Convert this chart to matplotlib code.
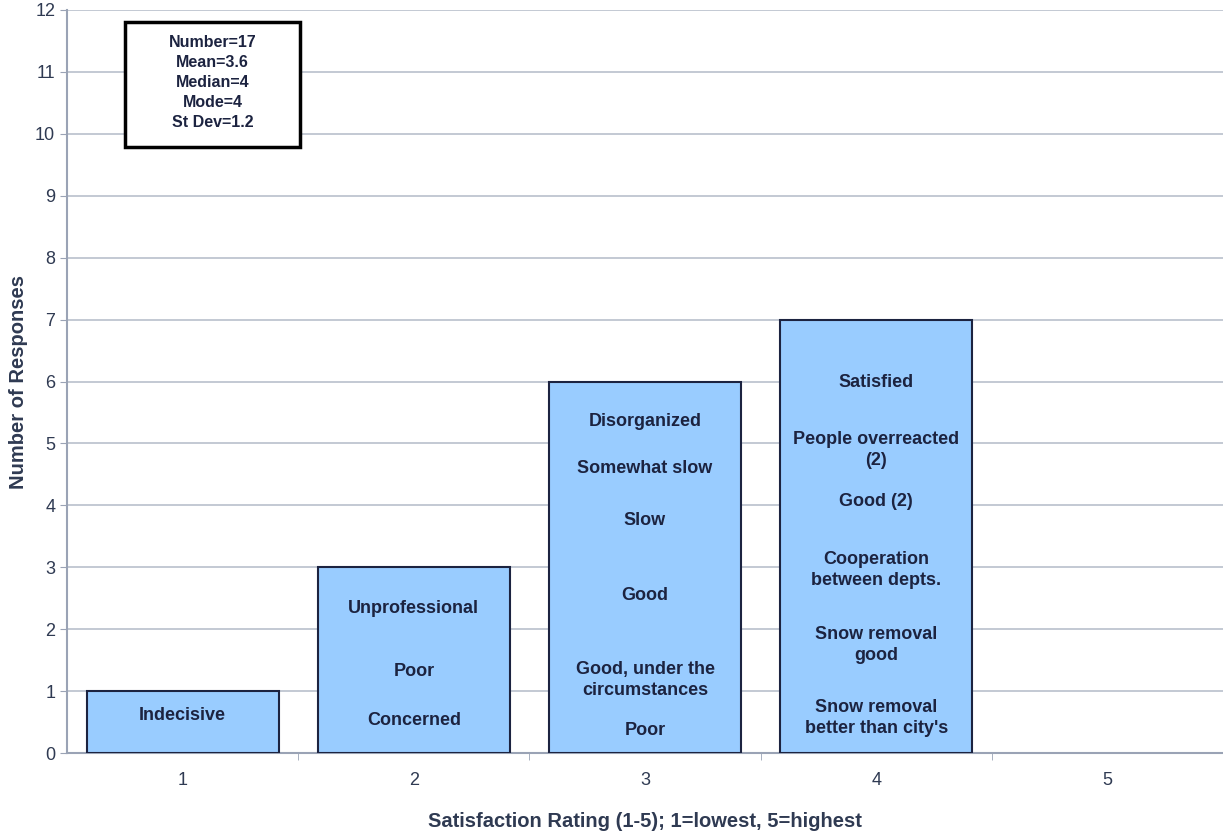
import matplotlib.pyplot as plt
from matplotlib.patches import Rectangle

plt.rcParams['font.family'] = ['Liberation Sans', 'DejaVu Sans']

ratings = [1, 2, 3, 4, 5]
responses = [1, 3, 6, 7, 0]

# comments written inside each bar: (rating, y position, text)
comment_rating = [1, 2, 2, 2, 3, 3, 3, 3, 3, 3, 4, 4, 4, 4, 4, 4]
comment_y = [0.6, 2.34, 1.31, 0.52, 5.36, 4.6, 3.76, 2.55, 1.18, 0.36,
             5.99, 4.9, 4.07, 2.96, 1.74, 0.57]
comment_text = ['Indecisive',
                'Unprofessional', 'Poor', 'Concerned',
                'Disorganized', 'Somewhat slow', 'Slow', 'Good',
                'Good, under the\ncircumstances', 'Poor',
                'Satisfied', 'People overreacted\n(2)', 'Good (2)',
                'Cooperation\nbetween depts.', 'Snow removal\ngood',
                "Snow removal\nbetter than city's"]

stats = 'Number=17\nMean=3.6\nMedian=4\nMode=4\nSt Dev=1.2'

ink = '#1c2340'
grey_ink = '#2f3a52'

fig = plt.figure(figsize=(12.23, 8.33), dpi=100)
ax = fig.add_axes([0.0548, 0.096, 0.9452, 0.892])

# empty categories get no outline
edge_w = [1.5 if v > 0 else 0 for v in responses]
ax.bar(ratings, responses, width=0.83, color='#99ccff', edgecolor=ink,
       linewidth=edge_w, zorder=3)

for r, y, t in zip(comment_rating, comment_y, comment_text):
    ax.text(r, y, t, ha='center', va='center', fontsize=13,
            fontweight='bold', color=ink, linespacing=1.3, zorder=4)

# statistics box
ax.add_patch(Rectangle((0.751, 9.79), 0.758, 2.02, facecolor='white',
                       edgecolor='black', linewidth=2.5, zorder=5))
ax.text(1.13, 10.83, stats, ha='center', va='center', fontsize=11.5,
        fontweight='bold', color=ink, linespacing=1.42, zorder=6)

ax.set_xlim(0.5, 5.5)
ax.set_ylim(0, 12)
ax.set_yticks(range(0, 13))
ax.set_xticks(ratings)
ax.set_xticks([1.5, 2.5, 3.5, 4.5], minor=True)
ax.tick_params(axis='x', which='major', length=0, pad=14, labelsize=13,
               labelcolor=grey_ink)
ax.tick_params(axis='x', which='minor', length=5, color='#9aa3b5')
ax.tick_params(axis='y', length=5, color='#9aa3b5', labelsize=13,
               labelcolor=grey_ink)

ax.grid(axis='y', color='#b9c0cc', linewidth=1.2, zorder=0)
for side in ['top', 'right']:
    ax.spines[side].set_visible(False)
ax.spines['left'].set_color('#9aa3b5')
ax.spines['left'].set_linewidth(1.5)
ax.spines['bottom'].set_color('#9aa3b5')
ax.spines['bottom'].set_linewidth(1.5)

ax.set_xlabel('Satisfaction Rating (1-5); 1=lowest, 5=highest',
              fontsize=14.5, fontweight='bold', color=grey_ink, labelpad=16)
ax.set_ylabel('Number of Responses', fontsize=14.5, fontweight='bold',
              color=grey_ink, labelpad=5)

fig.savefig('out.png', dpi=100)
